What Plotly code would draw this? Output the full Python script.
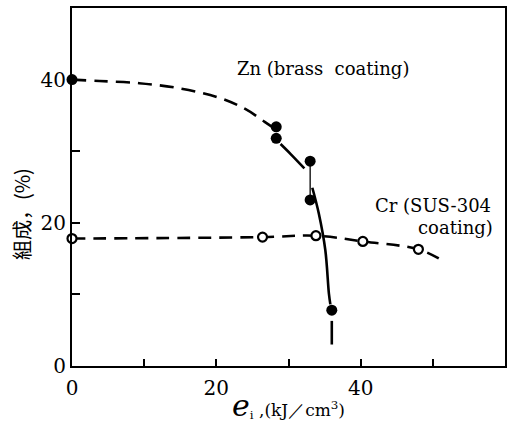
import plotly.graph_objects as go

# Measured points
zn_x = [0, 28.3, 28.3, 33.0, 33.0, 36.0]
zn_y = [40.0, 33.4, 31.8, 28.6, 23.2, 7.8]
cr_x = [0, 26.4, 33.8, 40.3, 48.0]
cr_y = [17.8, 18.0, 18.2, 17.4, 16.3]

# Hand-drawn guide curves
zn_a_x = [0, 3.8, 9.3, 14.8, 20.3, 24.0, 26.7, 28.3]
zn_a_y = [40.0, 39.8, 39.5, 38.8, 37.5, 35.9, 34.1, 33.0]
zn_b_x = [28.9, 30.3, 32.2]
zn_b_y = [31.0, 29.6, 27.6]
zn_bar_x = [33.0, 33.0]
zn_bar_y = [28.6, 23.2]
zn_c_x = [33.3, 34.2, 35.1, 35.6, 35.8]
zn_c_y = [24.9, 21.3, 16.2, 10.1, 8.6]
zn_d_x = [36.0, 36.0]
zn_d_y = [6.3, 3.0]
cr_line_x = [0, 26.4, 33.8, 40.3, 48.0, 51.2]
cr_line_y = [17.8, 18.0, 18.2, 17.4, 16.3, 14.8]

x_tick_vals = [0, 20, 40]
y_tick_vals = [0, 20, 40]

SERIF = "DejaVu Serif"

fig = go.Figure()
lw = 2.6
fig.add_trace(go.Scatter(x=zn_a_x, y=zn_a_y, mode="lines", line=dict(color="black", width=lw, dash="14px,8px", shape="spline"), hoverinfo="skip"))
fig.add_trace(go.Scatter(x=zn_b_x, y=zn_b_y, mode="lines", line=dict(color="black", width=lw, shape="spline"), hoverinfo="skip"))
fig.add_trace(go.Scatter(x=zn_bar_x, y=zn_bar_y, mode="lines", line=dict(color="black", width=1.3), hoverinfo="skip"))
fig.add_trace(go.Scatter(x=zn_c_x, y=zn_c_y, mode="lines", line=dict(color="black", width=lw, shape="spline"), hoverinfo="skip"))
fig.add_trace(go.Scatter(x=zn_d_x, y=zn_d_y, mode="lines", line=dict(color="black", width=lw), hoverinfo="skip"))
fig.add_trace(go.Scatter(x=cr_line_x, y=cr_line_y, mode="lines", line=dict(color="black", width=lw, dash="13px,8px", shape="spline"), hoverinfo="skip"))
fig.add_trace(go.Scatter(x=zn_x, y=zn_y, mode="markers", cliponaxis=False,
                         marker=dict(symbol="circle", size=11, color="black", line=dict(width=0))))
fig.add_trace(go.Scatter(x=cr_x, y=cr_y, mode="markers", cliponaxis=False,
                         marker=dict(symbol="circle", size=9, color="white", line=dict(width=2.2, color="black"))))

fig.add_annotation(x=34.8, y=41.6, text="Zn (brass  coating)", showarrow=False,
                   font=dict(family=SERIF, size=18, color="black"))
fig.add_annotation(x=58.3, y=22.4, text="Cr (SUS-304", showarrow=False, xanchor="right",
                   font=dict(family=SERIF, size=18, color="black"))
fig.add_annotation(x=58.6, y=19.3, text="coating)", showarrow=False, xanchor="right",
                   font=dict(family=SERIF, size=18, color="black"))
# y-axis title
fig.add_annotation(xref="paper", yref="paper", x=-0.115, y=0.425, xanchor="center", yanchor="middle",
                   text="組成，(%)", textangle=-90,
                   showarrow=False, font=dict(family="Noto Sans CJK JP", size=20, color="black"))

fig.update_layout(
    width=511, height=423, margin=dict(l=72, r=4, t=8, b=57),
    paper_bgcolor="white", plot_bgcolor="white", showlegend=False,
    font=dict(family=SERIF, color="black"),
)
fig.update_xaxes(range=[0, 60], showgrid=False, zeroline=False, showline=True, linecolor="black", linewidth=2,
                 mirror=True, ticks="inside", ticklen=7, tickwidth=2, tickcolor="black",
                 tickvals=x_tick_vals,
                 minor=dict(dtick=10, tick0=0, ticks="inside", ticklen=7, tickwidth=2, tickcolor="black", showgrid=False),
                 tickfont=dict(family=SERIF, size=20), ticklabelstandoff=3,
                 title=dict(text="<i><span style='font-size:30px'>e</span></i><sub>i</sub> ,(kJ／cm<sup>3</sup>)",
                            font=dict(family=SERIF, size=17), standoff=5))
fig.update_yaxes(range=[0, 50], showgrid=False, zeroline=False, showline=True, linecolor="black", linewidth=2,
                 mirror=True, ticks="inside", ticklen=8, tickwidth=2, tickcolor="black",
                 tickvals=y_tick_vals,
                 minor=dict(dtick=10, tick0=0, ticks="inside", ticklen=8, tickwidth=2, tickcolor="black", showgrid=False),
                 tickfont=dict(family=SERIF, size=20), ticklabelstandoff=0)

fig.write_html("out.html")
